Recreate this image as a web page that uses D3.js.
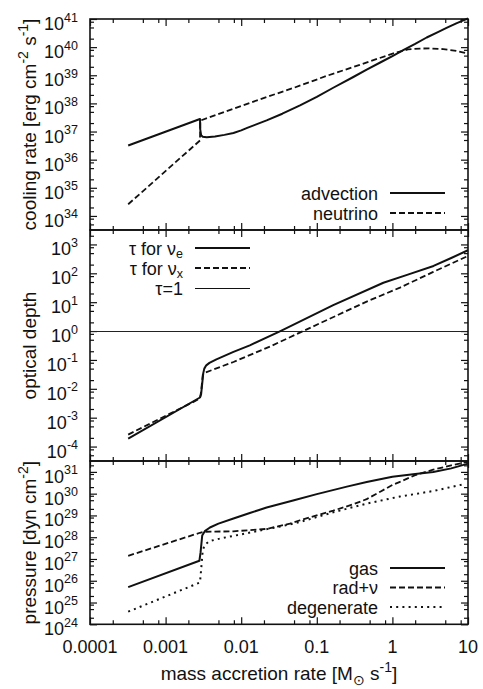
<!DOCTYPE html>
<html>
<head>
<meta charset="utf-8">
<script src="https://cdn.jsdelivr.net/npm/d3@7"></script>
<style>
  body { margin: 0; background: #fff; }
  svg text { font-family: "Liberation Sans", Arial, Helvetica, sans-serif; fill: #111; }
</style>
</head>
<body>
<svg id="chart" width="483" height="689"></svg>
<script>
// ---- data: [mass accretion rate (Msun/s), value] ----
// cooling rates [erg cm^-2 s^-1]
const advection = [
  [3.2e-4, 3.2e36], [2.85e-3, 2.8e37], [2.87e-3, 1.2e37], [2.95e-3, 7.4e36],
  [3.1e-3, 6.5e36], [3.5e-3, 6.3e36], [4.5e-3, 6.7e36], [6.0e-3, 7.6e36],
  [7.9e-3, 8.9e36], [1.0e-2, 1.1e37], [1.2e-2, 1.35e37], [2.17e-2, 2.5e37],
  [3.5e-2, 4.3e37], [6.0e-2, 8.5e37], [0.1, 1.7e38], [0.165, 3.6e38], [0.3, 8.5e38],
  [0.457, 1.6e39], [0.7, 2.9e39], [1.03, 5.0e39], [1.39, 7.8e39], [2.0, 1.3e40],
  [2.84, 2.2e40], [4.0, 3.4e40], [5.2, 4.8e40], [7.0, 7.0e40], [10, 1.05e41]
];
const neutrino = [
  [3.2e-4, 2.6e34], [2.85e-3, 4.8e36], [2.88e-3, 2.45e37], [7.9e-3, 6.5e37],
  [1.77e-2, 1.4e38], [5.0e-2, 3.6e38], [0.135, 9.5e38], [0.37, 2.35e39],
  [1.03, 6.0e39], [1.6, 8.3e39], [2.3, 8.9e39], [3.2, 9.0e39], [4.7, 8.5e39],
  [7.0, 7.4e39], [10, 5.9e39]
];
// optical depths
const tauE = [
  [3.2e-4, 1.9e-4], [2.85e-3, 5.0e-3], [2.95e-3, 6.5e-3], [3.05e-3, 1.5e-2],
  [3.15e-3, 3.5e-2], [3.25e-3, 5.0e-2], [3.45e-3, 6.5e-2], [3.8e-3, 7.9e-2],
  [4.7e-3, 0.105], [7.9e-3, 0.19], [1.3e-2, 0.32], [3.3e-2, 1.0], [0.165, 7.9],
  [0.76, 47], [1.6, 90], [3.5, 180], [6.0, 340], [10, 630]
];
const tauX = [
  [3.2e-4, 2.6e-4], [2.57e-3, 4.0e-3], [2.85e-3, 4.7e-3], [2.95e-3, 8.0e-3],
  [3.1e-3, 3.0e-2], [3.4e-3, 3.7e-2], [7.9e-3, 8.5e-2], [2.4e-2, 0.29],
  [6.6e-2, 1.0], [0.457, 10.5], [1.26, 32], [3.47, 112], [10, 400]
];
const tauOne = 1;
// pressures [dyn cm^-2]
const pGas = [
  [3.2e-4, 5.1e25], [2.8e-3, 8.3e26], [2.9e-3, 2.0e27], [3.05e-3, 1.2e28],
  [3.3e-3, 1.9e28], [3.86e-3, 2.8e28], [5.0e-3, 4.2e28], [7.9e-3, 7.2e28],
  [1.3e-2, 1.3e29], [2.17e-2, 2.3e29], [0.05, 5.0e29], [0.1, 9.5e29],
  [0.25, 2.1e30], [0.457, 3.4e30], [1.0, 6.0e30], [2.0, 7.9e30],
  [3.47, 9.8e30], [6.0, 1.45e31], [10, 2.4e31]
];
const pRad = [
  [3.2e-4, 1.4e27], [2.85e-3, 1.6e28], [3.2e-3, 1.78e28], [7.9e-3, 1.86e28],
  [2.17e-2, 2.4e28], [4.4e-2, 4.2e28], [6.0e-2, 6.0e28], [0.165, 1.66e29],
  [0.3, 3.2e29], [0.457, 5.6e29], [0.7, 1.26e30], [1.0, 2.5e30], [1.26, 3.5e30],
  [2.0, 7.1e30], [3.47, 1.26e31], [6.0, 2.0e31], [10, 2.9e31]
];
const pDeg = [
  [3.2e-4, 3.8e24], [2.85e-3, 8.3e25], [2.95e-3, 3.2e26], [3.1e-3, 2.5e27],
  [3.3e-3, 4.5e27], [3.8e-3, 6.6e27], [5.5e-3, 9.0e27], [7.9e-3, 1.15e28],
  [2.0e-2, 2.2e28], [3.6e-2, 3.3e28], [6.0e-2, 5.0e28], [0.165, 1.4e29],
  [0.457, 3.5e29], [1.26, 7.4e29], [3.47, 1.32e30], [9.1, 2.8e30]
];

// ---- axis ticks ----
const xMajor = [1e-4, 1e-3, 1e-2, 1e-1, 1, 10];
const xTickLabels = ["0.0001", "0.001", "0.01", "0.1", "1", "10"];
const minorMantissa = [2, 5, 8];
const coolingExp = [34, 35, 36, 37, 38, 39, 40, 41];
const depthExp = [-4, -3, -2, -1, 0, 1, 2, 3];
const pressureExp = [24, 25, 26, 27, 28, 29, 30, 31];

// ---- legend entries ----
const coolingNames = ["advection", "neutrino"];
const depthNames = [["τ for ν", "e"], ["τ for ν", "x"], ["τ=1", ""]];
const pressureNames = ["gas", "rad+ν", "degenerate"];

const svg = d3.select("#chart");
const x = d3.scaleLog().domain([1e-4, 10]).range([90, 468]);
const X0 = 90, X1 = 468;

const styles = {
  solid:  { dash: null, width: 2 },
  dashed: { dash: "6,3", width: 1.8 },
  dotted: { dash: "2,4.2", width: 2 },
  thin:   { dash: null, width: 1 }
};

function minorTicks(lo, hi) {
  const out = [];
  for (let e = Math.floor(Math.log10(lo)) - 1; e <= Math.ceil(Math.log10(hi)); e++) {
    minorMantissa.forEach(m => {
      const v = m * Math.pow(10, e);
      if (v > lo * 1.0001 && v < hi * 0.9999) out.push(v);
    });
  }
  return out;
}

function expLabel(sel, exp) {
  sel.text(null);
  sel.append("tspan").text("10");
  sel.append("tspan").attr("dy", -8.5).attr("font-size", 12.5).text(String(exp));
}

function rich(textSel, parts, small) {
  // parts: [string, kind] where kind is "sup", "sub" or undefined
  let shift = 0;
  parts.forEach(([s, kind]) => {
    const target = kind === "sup" ? -8 : kind === "sub" ? 5 : 0;
    const t = textSel.append("tspan").attr("dy", target - shift).text(s);
    if (kind) t.attr("font-size", small);
    shift = target;
  });
}

function drawPanel(cfg) {
  const g = svg.append("g");
  const y = d3.scaleLog().domain(cfg.domain).range([cfg.bottom, cfg.top]);
  const yMajor = cfg.exps.map(e => Math.pow(10, e));
  const yMinor = minorTicks(cfg.domain[0], cfg.domain[1]);
  const xMinor = minorTicks(1e-4, 10);

  const addAxis = (axis, tx, ty) => {
    const a = g.append("g").attr("transform", `translate(${tx},${ty})`).call(axis);
    a.select(".domain").remove();
    a.selectAll(".tick line").attr("stroke", "#111").attr("stroke-width", 1.2);
    return a;
  };
  // inward ticks on all four sides
  addAxis(d3.axisBottom(x).tickValues(xMajor).tickSize(-7).tickFormat(""), 0, cfg.bottom);
  addAxis(d3.axisBottom(x).tickValues(xMinor).tickSize(-4).tickFormat(""), 0, cfg.bottom);
  addAxis(d3.axisTop(x).tickValues(xMajor).tickSize(-7).tickFormat(""), 0, cfg.top);
  addAxis(d3.axisTop(x).tickValues(xMinor).tickSize(-4).tickFormat(""), 0, cfg.top);
  addAxis(d3.axisRight(y).tickValues(yMajor).tickSize(-7).tickFormat(""), X1, 0);
  addAxis(d3.axisRight(y).tickValues(yMinor).tickSize(-4).tickFormat(""), X1, 0);
  addAxis(d3.axisLeft(y).tickValues(yMinor).tickSize(-4).tickFormat(""), X0, 0);
  const left = addAxis(d3.axisLeft(y).tickValues(yMajor).tickSize(-7).tickPadding(12), X0, 0);
  left.selectAll(".tick text")
    .attr("font-size", 18).attr("font-family", null).attr("fill", "#111")
    .attr("dy", null).attr("y", 10.5)
    .each(function (d) { expLabel(d3.select(this), Math.round(Math.log10(d))); });
  left.attr("font-size", null).attr("font-family", null);

  // reference lines
  (cfg.hlines || []).forEach(v => {
    g.append("line").attr("x1", X0).attr("x2", X1).attr("y1", y(v)).attr("y2", y(v))
      .attr("stroke", "#222").attr("stroke-width", styles.thin.width)
      .attr("shape-rendering", "crispEdges");
  });

  // data curves
  const line = d3.line()
    .x(d => x(d[0]))
    .y(d => y(d[1]));
  cfg.series.forEach(s => {
    const st = styles[s.style];
    g.append("path").datum(s.data).attr("d", line)
      .attr("fill", "none").attr("stroke", "#111")
      .attr("stroke-width", st.width).attr("stroke-dasharray", st.dash)
      .attr("stroke-linejoin", "round");
  });

  // frame
  g.append("rect").attr("x", X0).attr("y", cfg.top)
    .attr("width", X1 - X0).attr("height", cfg.bottom - cfg.top)
    .attr("fill", "none").attr("stroke", "#111").attr("stroke-width", 1.6);

  // legend
  const L = cfg.legend;
  L.entries.forEach((e, i) => {
    const cy = L.y + i * L.step;
    const t = g.append("text").attr("x", L.x).attr("y", cy + 6.5)
      .attr("text-anchor", "end").attr("font-size", 18);
    if (Array.isArray(e.label)) {
      t.append("tspan").text(e.label[0]);
      if (e.label[1]) t.append("tspan").attr("dy", 3).attr("font-size", 12.5).text(e.label[1]);
    } else {
      t.text(e.label);
    }
    const st = styles[e.style];
    g.append("line").attr("x1", L.x + 12).attr("x2", L.x + 67)
      .attr("y1", cy).attr("y2", cy)
      .attr("stroke", "#111").attr("stroke-width", st.width)
      .attr("stroke-dasharray", st.dash)
      .attr("shape-rendering", e.style === "thin" ? "crispEdges" : null);
  });

  // y title
  const tt = g.append("text")
    .attr("transform", `translate(36,${(cfg.top + cfg.bottom) / 2}) rotate(-90)`)
    .attr("text-anchor", "middle").attr("font-size", 19);
  rich(tt, cfg.title, 14);
  return y;
}

drawPanel({
  top: 19, bottom: 230, domain: [Math.pow(10, 33.5), 1e41], exps: coolingExp,
  title: [["cooling rate [erg cm"], ["-2", "sup"], [" s"], ["-1", "sup"], ["]"]],
  series: [
    { data: advection, style: "solid" },
    { data: neutrino, style: "dashed" }
  ],
  legend: { x: 378, y: 193, step: 20, entries: [
    { label: coolingNames[0], style: "solid" },
    { label: coolingNames[1], style: "dashed" }
  ] }
});

drawPanel({
  top: 230, bottom: 461, domain: [Math.pow(10, -4.5), Math.pow(10, 3.5)], exps: depthExp,
  title: [["optical depth"]],
  hlines: [tauOne],
  series: [
    { data: tauE, style: "solid" },
    { data: tauX, style: "dashed" }
  ],
  legend: { x: 183, y: 248, step: 20, entries: [
    { label: depthNames[0], style: "solid" },
    { label: depthNames[1], style: "dashed" },
    { label: depthNames[2][0], style: "thin" }
  ] }
});

drawPanel({
  top: 461, bottom: 624.3, domain: [1e24, Math.pow(10, 31.5)], exps: pressureExp,
  title: [["pressure [dyn cm"], ["-2", "sup"], ["]"]],
  series: [
    { data: pGas, style: "solid" },
    { data: pRad, style: "dashed" },
    { data: pDeg, style: "dotted" }
  ],
  legend: { x: 378, y: 568, step: 19.5, entries: [
    { label: pressureNames[0], style: "solid" },
    { label: pressureNames[1], style: "dashed" },
    { label: pressureNames[2], style: "dotted" }
  ] }
});

// x tick labels along the bottom panel
svg.append("g").selectAll("text").data(xMajor).join("text")
  .attr("x", d => x(d)).attr("y", 653)
  .attr("text-anchor", "middle").attr("font-size", 18)
  .text((d, i) => xTickLabels[i]);

// x title
const xt = svg.append("text").attr("x", (X0 + X1) / 2).attr("y", 680)
  .attr("text-anchor", "middle").attr("font-size", 19);
rich(xt, [["mass accretion rate [M"], ["⊙", "sub"], [" s"], ["-1", "sup"], ["]"]], 14);
</script>
</body>
</html>
